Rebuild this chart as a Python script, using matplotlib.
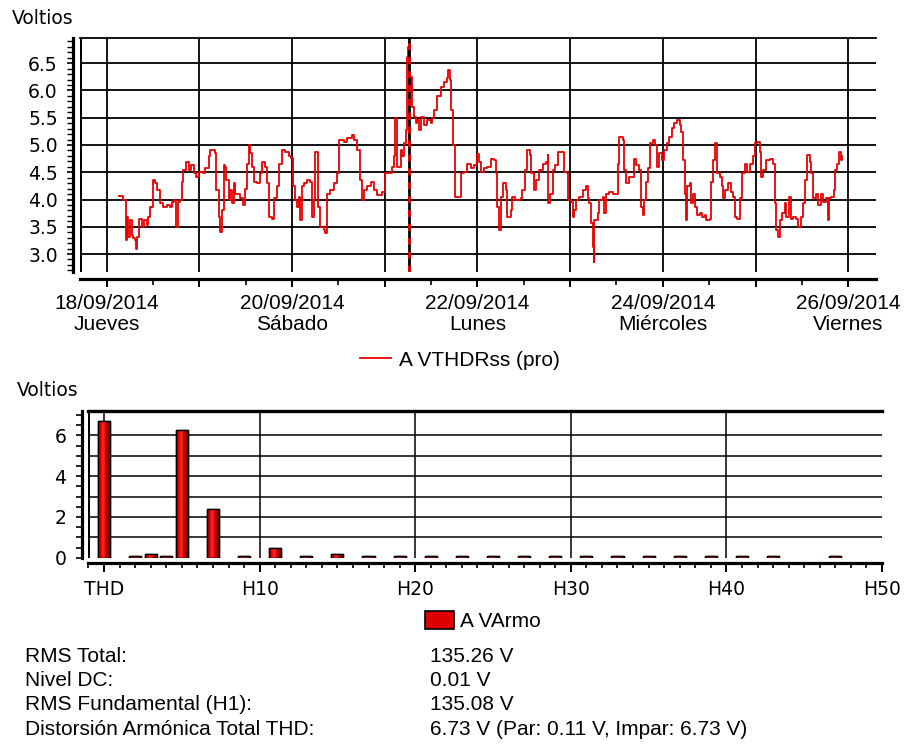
import numpy as np
import matplotlib
matplotlib.use("Agg")
import matplotlib.pyplot as plt
from matplotlib.lines import Line2D
from matplotlib.patches import Patch
from matplotlib.colors import LinearSegmentedColormap
import matplotlib.ticker as mticker

# ---------------- data ----------------
# time series: fractional day of September 2014, volts
ts_day = [18.137, 18.180, 18.205, 18.216, 18.234, 18.252, 18.270, 18.288, 18.306, 18.317,
          18.331, 18.353, 18.378, 18.403, 18.432, 18.450, 18.468, 18.497, 18.522, 18.547,
          18.576, 18.612, 18.648, 18.684, 18.702, 18.728, 18.749, 18.764, 18.792, 18.810,
          18.828, 18.857, 18.883, 18.908, 18.937, 18.965, 19.001, 19.037, 19.063, 19.099,
          19.117, 19.153, 19.171, 19.182, 19.207, 19.225, 19.243, 19.261, 19.279, 19.290,
          19.315, 19.333, 19.351, 19.369, 19.387, 19.423, 19.441, 19.470, 19.495, 19.513,
          19.531, 19.549, 19.567, 19.585, 19.621, 19.657, 19.675, 19.711, 19.729, 19.747,
          19.783, 19.801, 19.837, 19.863, 19.891, 19.928, 19.964, 19.989, 20.011, 20.036,
          20.054, 20.072, 20.090, 20.108, 20.133, 20.162, 20.198, 20.216, 20.234, 20.252,
          20.270, 20.277, 20.306, 20.342, 20.360, 20.378, 20.414, 20.450, 20.486, 20.504,
          20.558, 20.594, 20.648, 20.666, 20.702, 20.738, 20.756, 20.775, 20.811, 20.847,
          20.882, 20.918, 20.973, 20.998, 21.040, 21.081, 21.098, 21.106, 21.128, 21.171,
          21.189, 21.206, 21.225, 21.236, 21.250, 21.261, 21.279, 21.297, 21.315, 21.333,
          21.351, 21.369, 21.387, 21.423, 21.459, 21.495, 21.514, 21.531, 21.568, 21.604,
          21.639, 21.668, 21.682, 21.704, 21.719, 21.741, 21.755, 21.820, 21.827, 21.855,
          21.891, 21.927, 21.964, 21.992, 22.018, 22.043, 22.072, 22.108, 22.144, 22.180,
          22.198, 22.216, 22.234, 22.252, 22.281, 22.306, 22.324, 22.360, 22.378, 22.403,
          22.468, 22.486, 22.511, 22.540, 22.569, 22.583, 22.612, 22.630, 22.666, 22.702,
          22.738, 22.756, 22.763, 22.785, 22.810, 22.836, 22.865, 22.918, 22.937, 22.965,
          22.980, 23.009, 23.027, 23.045, 23.063, 23.099, 23.135, 23.171, 23.189, 23.207,
          23.225, 23.243, 23.254, 23.261, 23.297, 23.315, 23.351, 23.369, 23.387, 23.423,
          23.459, 23.495, 23.513, 23.531, 23.567, 23.585, 23.603, 23.639, 23.675, 23.686,
          23.711, 23.747, 23.765, 23.783, 23.801, 23.819, 23.845, 23.866, 23.891, 23.917,
          23.938, 23.964, 23.989, 24.018, 24.047, 24.072, 24.097, 24.126, 24.155, 24.180,
          24.198, 24.216, 24.234, 24.252, 24.263, 24.288, 24.306, 24.324, 24.342, 24.371,
          24.396, 24.421, 24.450, 24.468, 24.504, 24.515, 24.540, 24.558, 24.576, 24.587,
          24.612, 24.637, 24.648, 24.673, 24.702, 24.731, 24.756, 24.774, 24.803, 24.828,
          24.854, 24.882, 24.911, 24.937, 24.973, 24.998, 25.019, 25.045, 25.063, 25.081,
          25.117, 25.153, 25.189, 25.207, 25.225, 25.243, 25.261, 25.286, 25.315, 25.333,
          25.358, 25.380, 25.405, 25.441, 25.459, 25.488, 25.513, 25.531, 25.560, 25.585,
          25.603, 25.621, 25.657, 25.675, 25.711, 25.729, 25.765, 25.783, 25.794, 25.819,
          25.848, 25.863, 25.884, 25.898, 25.920, 25.935]
ts_volts = [4.06, 3.99, 3.26, 3.68, 3.32, 3.62, 3.35, 3.29, 3.26, 3.10,
            3.32, 3.65, 3.50, 3.62, 3.53, 3.68, 3.87, 4.36, 4.30, 4.17,
            3.93, 3.86, 3.90, 3.86, 3.96, 3.99, 3.50, 3.96, 4.00, 4.33,
            4.54, 4.69, 4.54, 4.63, 4.48, 4.42, 4.51, 4.48, 4.57, 4.79,
            4.90, 4.90, 4.85, 4.17, 3.68, 3.41, 3.81, 4.63, 4.60, 4.36,
            3.99, 4.17, 3.93, 4.30, 4.11, 4.11, 4.02, 3.90, 4.20, 4.66,
            5.00, 4.85, 4.60, 4.33, 4.30, 4.48, 4.69, 4.60, 4.30, 3.68,
            3.65, 4.02, 4.24, 4.66, 4.91, 4.88, 4.79, 4.76, 4.24, 3.99,
            3.87, 4.05, 3.62, 4.24, 4.30, 4.36, 4.33, 3.68, 3.99, 4.88,
            4.88, 3.87, 3.50, 3.44, 3.38, 4.11, 4.17, 4.30, 4.48, 5.09,
            5.06, 5.12, 5.18, 5.09, 4.91, 4.36, 3.99, 4.17, 4.24, 4.33,
            4.17, 4.08, 4.14, 4.48, 4.48, 4.60, 4.79, 5.49, 4.60, 4.91,
            4.79, 5.03, 5.28, 6.62, 6.80, 6.07, 6.25, 5.70, 5.52, 5.40,
            5.46, 5.28, 5.52, 5.37, 5.46, 5.40, 5.49, 5.64, 5.89, 6.07,
            6.16, 6.22, 6.38, 6.19, 5.64, 5.00, 4.05, 4.05, 4.48, 4.51,
            4.66, 4.57, 4.63, 4.83, 4.69, 4.51, 4.57, 4.60, 4.75, 4.72,
            4.48, 3.87, 3.44, 4.05, 4.30, 4.17, 3.68, 3.81, 4.05, 4.00,
            4.02, 4.17, 4.54, 4.91, 4.82, 4.48, 4.17, 4.36, 4.54, 4.66,
            4.69, 4.82, 3.93, 4.11, 4.54, 4.63, 4.88, 4.88, 4.51, 4.48,
            3.99, 3.96, 3.68, 3.81, 3.99, 4.05, 4.17, 4.24, 4.02, 3.93,
            3.56, 3.13, 2.86, 3.62, 3.75, 3.99, 4.05, 3.75, 4.11, 4.14,
            4.11, 4.11, 4.66, 5.15, 5.09, 4.54, 4.30, 4.42, 4.42, 4.75,
            4.63, 4.54, 3.87, 3.72, 3.99, 4.33, 4.57, 5.03, 5.09, 5.00,
            4.60, 4.85, 4.72, 4.91, 5.03, 5.15, 5.31, 5.40, 5.46, 5.37,
            5.24, 4.72, 4.11, 3.62, 4.24, 4.30, 3.93, 4.11, 3.87, 3.72,
            3.75, 3.68, 3.72, 3.62, 3.65, 4.33, 4.72, 5.03, 5.03, 4.48,
            4.42, 4.24, 4.02, 4.17, 4.30, 4.14, 4.05, 3.68, 3.65, 4.02,
            4.48, 4.66, 4.51, 4.66, 4.79, 5.03, 5.06, 4.88, 4.42, 4.54,
            4.72, 4.75, 4.66, 3.93, 3.44, 3.32, 3.62, 3.75, 3.93, 3.68,
            4.05, 3.65, 3.68, 3.65, 3.50, 3.68, 3.93, 4.36, 4.82, 4.69,
            4.48, 4.02, 4.11, 3.90, 4.11, 3.96, 4.02, 3.62, 4.02, 4.05,
            4.17, 4.54, 4.66, 4.88, 4.72, 4.79]
cursor_day = 21.26

day_ticks = [18, 19, 20, 21, 22, 23, 24, 25, 26]
day_labels = ["18/09/2014\nJueves", "", "20/09/2014\nSábado", "", "22/09/2014\nLunes",
              "", "24/09/2014\nMiércoles", "", "26/09/2014\nViernes"]
volt_ticks = [3.0, 3.5, 4.0, 4.5, 5.0, 5.5, 6.0, 6.5]

# harmonic spectrum: position 0 = THD, then harmonic order
harm_pos = [0, 2, 3, 4, 5, 7, 9, 11, 13, 15, 17, 19, 21, 23, 25, 27, 29, 31, 33, 35,
            37, 39, 41, 43, 47]
harm_vals = [6.73, 0.06, 0.16, 0.06, 6.28, 2.38, 0.06, 0.46, 0.06, 0.16, 0.06, 0.06,
             0.06, 0.06, 0.06, 0.06, 0.06, 0.06, 0.06, 0.06, 0.06, 0.06, 0.06, 0.06, 0.06]
harm_ticks = [0, 10, 20, 30, 40, 50]
harm_labels = ["THD", "H10", "H20", "H30", "H40", "H50"]
harm_yticks = [0, 2, 4, 6]

stat_names = ["RMS Total:", "Nivel DC:", "RMS Fundamental (H1):",
              "Distorsión Armónica Total THD:"]
stat_values = ["135.26 V", "0.01 V", "135.08 V",
               "6.73 V (Par: 0.11 V, Impar: 6.73 V)"]

# ---------------- style ----------------
W, H = 905, 744
RED = "#e80000"
NUM_FONT = ["DejaVu Sans"]
TXT_FONT = ["Liberation Sans", "DejaVu Sans"]
NUM_SIZE = 13.5
TXT_SIZE = 15

fig = plt.figure(figsize=(W / 100, H / 100), dpi=100)

def fx(px):
    return px / W

def fy(py):
    return 1 - py / H

# ---------------- top chart ----------------
ax1 = fig.add_axes([fx(80), fy(272), fx(796), 234 / H])
ax1.plot(ts_day, ts_volts, color=RED, lw=1.3, drawstyle="steps-post", zorder=3)
ax1.axvline(cursor_day, color="black", lw=2.0, zorder=4)
ax1.axvline(cursor_day, color=RED, lw=2.0, dashes=(2.5, 2.5), zorder=5)

ax1.spines["right"].set_visible(False)
ax1.spines["top"].set_linewidth(1.3)
ax1.spines["left"].set_position(("outward", 5))
ax1.spines["left"].set_linewidth(2.3)
ax1.spines["bottom"].set_position(("outward", 5))
ax1.spines["bottom"].set_linewidth(2.3)
ax1.tick_params(axis="y", which="major", direction="out", length=4, width=1.2, pad=7,
                labelsize=NUM_SIZE, labelfontfamily=NUM_FONT[0])
ax1.tick_params(axis="y", which="minor", direction="out", length=4, width=1.0)
ax1.tick_params(axis="x", which="major", direction="out", length=6, width=1.4, pad=5,
                labelsize=TXT_SIZE, labelfontfamily=TXT_FONT[0])
ax1.tick_params(axis="x", which="minor", direction="out", length=4, width=1.2)

ax1.set_xticks(day_ticks)
ax1.set_xticklabels(day_labels, linespacing=1.15)
ax1.xaxis.set_minor_locator(mticker.MultipleLocator(0.5))
ax1.set_yticks(volt_ticks)
ax1.set_yticklabels([f"{v:.1f}" for v in volt_ticks])
ax1.yaxis.set_minor_locator(mticker.MultipleLocator(0.1))

for v in volt_ticks:
    ax1.axhline(v, color="black", lw=1.3, zorder=1)
for d in day_ticks:
    ax1.axvline(d, color="black", lw=1.3, zorder=1)
ax1.set_xlim(17.712, 26.30)
ax1.set_ylim(2.67, 6.963)
ax1.axvline(ax1.get_xlim()[0], color="black", lw=2.2, zorder=2)

fig.text(fx(12), fy(18), "Voltios", fontfamily=NUM_FONT, fontsize=NUM_SIZE,
         ha="left", va="center")

fig.legend(handles=[Line2D([], [], color=RED, lw=1.3, label="A VTHDRss (pro)")],
           loc="center", bbox_to_anchor=(fx(460), fy(360)), frameon=False,
           prop={"family": TXT_FONT, "size": TXT_SIZE}, handlelength=1.5, handletextpad=0.4)

# ---------------- bottom chart ----------------
ax2 = fig.add_axes([fx(88), fy(557.7), fx(794), 146.7 / H])

cmap = LinearSegmentedColormap.from_list(
    "cyl", ["#7a0000", "#e00000", "#ff2a2a", "#d80000", "#8a0000", "#500000"])
grad = np.linspace(0, 1, 64).reshape(1, -1)
bars = ax2.bar(harm_pos, harm_vals, width=0.78, color="#d00000",
               edgecolor="black", lw=1.0, zorder=3)
for b in bars:
    x0, y0 = b.get_x(), b.get_y()
    im = ax2.imshow(grad, cmap=cmap, aspect="auto", zorder=3.5,
                    extent=[x0, x0 + b.get_width(), y0, y0 + b.get_height()])
    im.set_clip_path(b)
ax2.bar(harm_pos, harm_vals, width=0.78, facecolor="none",
        edgecolor="black", lw=1.0, zorder=4)

ax2.spines["right"].set_visible(False)
ax2.spines["top"].set_linewidth(2.4)
ax2.spines["left"].set_position(("outward", 4.5))
ax2.spines["left"].set_linewidth(2.3)
ax2.spines["bottom"].set_position(("outward", 3.6))
ax2.spines["bottom"].set_linewidth(2.3)
ax2.tick_params(axis="y", which="major", direction="out", length=4, width=1.2, pad=7,
                labelsize=NUM_SIZE, labelfontfamily=NUM_FONT[0])
ax2.tick_params(axis="y", which="minor", direction="out", length=4, width=1.2)
ax2.tick_params(axis="x", which="major", direction="out", length=6.5, width=1.4, pad=6,
                labelsize=NUM_SIZE, labelfontfamily=NUM_FONT[0])
ax2.tick_params(axis="x", which="minor", direction="out", length=3.5, width=1.2)

ax2.set_xticks(harm_ticks)
ax2.set_xticklabels(harm_labels)
ax2.xaxis.set_minor_locator(mticker.MultipleLocator(1))
ax2.set_yticks(harm_yticks)
ax2.set_yticklabels([str(v) for v in harm_yticks])
ax2.yaxis.set_minor_locator(mticker.MultipleLocator(0.5))

for v in range(1, 7):
    ax2.axhline(v, color="black", lw=1.1, zorder=1)
for h in harm_ticks[:-1]:
    ax2.axvline(h, color="black", lw=1.1, zorder=1)
ax2.set_xlim(-1.03, 50)
ax2.set_ylim(0, 7.2)
ax2.axvline(ax2.get_xlim()[0], color="black", lw=2.2, zorder=2)

fig.text(fx(17), fy(390), "Voltios", fontfamily=NUM_FONT, fontsize=NUM_SIZE,
         ha="left", va="center")

fig.legend(handles=[Patch(facecolor="#dd0000", edgecolor="black", lw=1.2, label="A VArmo")],
           loc="center", bbox_to_anchor=(fx(483), fy(621)), frameon=False,
           prop={"family": TXT_FONT, "size": TXT_SIZE}, handlelength=1.4, handleheight=0.95,
           handletextpad=0.3)

# ---------------- statistics ----------------
for i, (n, v) in enumerate(zip(stat_names, stat_values)):
    yy = 656 + i * 24.4
    fig.text(fx(25), fy(yy), n, fontfamily=TXT_FONT, fontsize=TXT_SIZE, ha="left", va="center")
    fig.text(fx(430), fy(yy), v, fontfamily=TXT_FONT, fontsize=TXT_SIZE, ha="left", va="center")

fig.savefig("out.png", dpi=100)
